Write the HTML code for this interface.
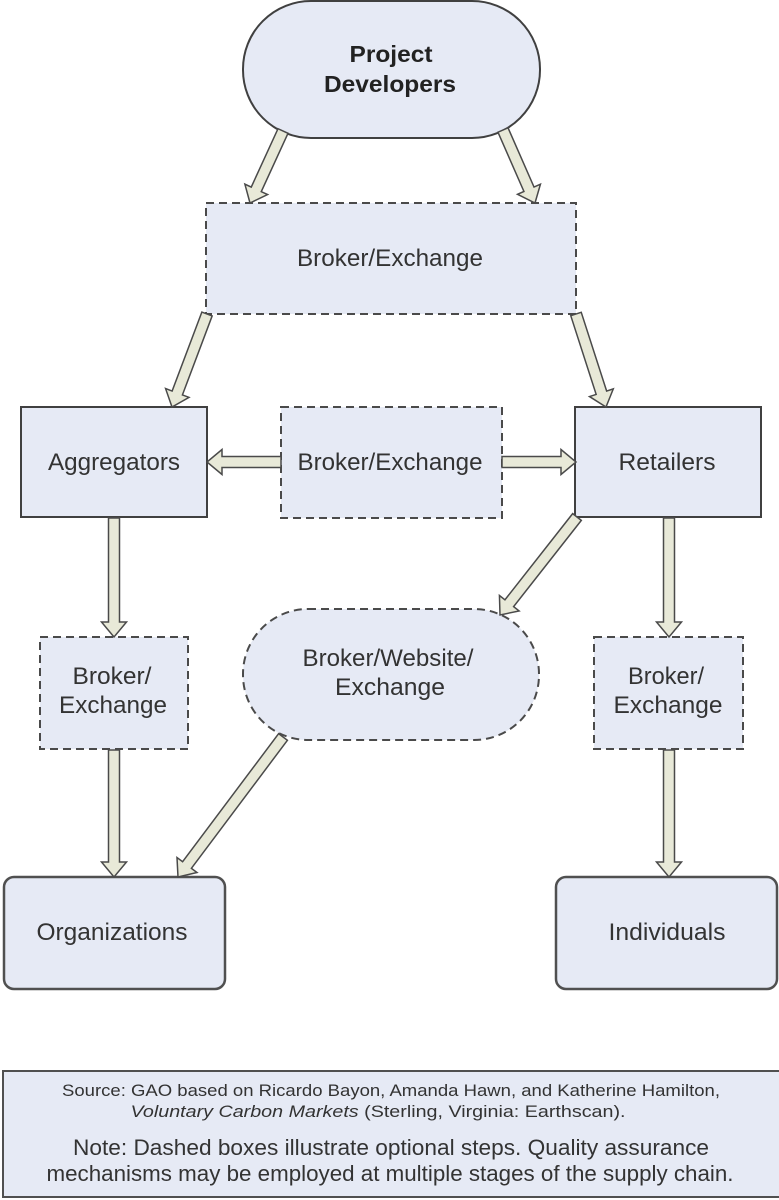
<!DOCTYPE html>
<html>
<head>
<meta charset="utf-8">
<style>
  html, body { margin:0; padding:0; background:#ffffff; }
  svg { display:block; }
  text { font-family: "Liberation Sans", Arial, sans-serif; fill:#333333; }
</style>
</head>
<body>
<svg width="779" height="1200" viewBox="0 0 779 1200" xmlns="http://www.w3.org/2000/svg">
  <rect x="0" y="0" width="779" height="1200" fill="#ffffff"/>

  <!-- Project Developers capsule -->
  <rect x="243" y="1" width="297" height="137" rx="68" ry="68" fill="#e6eaf5" stroke="#404040" stroke-width="2"/>
  <text x="391" y="62" font-size="23" font-weight="bold" text-anchor="middle" textLength="83" lengthAdjust="spacingAndGlyphs" style="fill:#222">Project</text>
  <text x="390" y="92" font-size="23" font-weight="bold" text-anchor="middle" textLength="132" lengthAdjust="spacingAndGlyphs" style="fill:#222">Developers</text>

  <!-- Top Broker/Exchange dashed -->
  <rect x="206" y="203" width="370" height="111" fill="#e6eaf5" stroke="#4a4a4a" stroke-width="2" stroke-dasharray="8,5"/>
  <text x="390" y="266" font-size="24" text-anchor="middle" textLength="186" lengthAdjust="spacingAndGlyphs">Broker/Exchange</text>

  <!-- Aggregators -->
  <rect x="21" y="407" width="186" height="110" fill="#e6eaf5" stroke="#404040" stroke-width="2"/>
  <text x="114" y="470" font-size="24" text-anchor="middle" textLength="132" lengthAdjust="spacingAndGlyphs">Aggregators</text>

  <!-- Middle Broker/Exchange dashed -->
  <rect x="281" y="407" width="221" height="111" fill="#e6eaf5" stroke="#4a4a4a" stroke-width="2" stroke-dasharray="8,5"/>
  <text x="390" y="470" font-size="24" text-anchor="middle" textLength="185" lengthAdjust="spacingAndGlyphs">Broker/Exchange</text>

  <!-- Retailers -->
  <rect x="575" y="407" width="186" height="110" fill="#e6eaf5" stroke="#404040" stroke-width="2"/>
  <text x="667" y="470" font-size="24" text-anchor="middle" textLength="97" lengthAdjust="spacingAndGlyphs">Retailers</text>

  <!-- Left small Broker/Exchange -->
  <rect x="40" y="637" width="148" height="112" fill="#e6eaf5" stroke="#4a4a4a" stroke-width="2" stroke-dasharray="8,5"/>
  <text x="112" y="684" font-size="24" text-anchor="middle" textLength="79" lengthAdjust="spacingAndGlyphs">Broker/</text>
  <text x="113" y="713" font-size="24" text-anchor="middle" textLength="108" lengthAdjust="spacingAndGlyphs">Exchange</text>

  <!-- Broker/Website/Exchange capsule dashed -->
  <rect x="243" y="609" width="296" height="131" rx="65" ry="65" fill="#e6eaf5" stroke="#4a4a4a" stroke-width="2" stroke-dasharray="8,5"/>
  <text x="388" y="666" font-size="24" text-anchor="middle" textLength="171" lengthAdjust="spacingAndGlyphs">Broker/Website/</text>
  <text x="390" y="695" font-size="24" text-anchor="middle" textLength="110" lengthAdjust="spacingAndGlyphs">Exchange</text>

  <!-- Right small Broker/Exchange -->
  <rect x="594" y="637" width="149" height="112" fill="#e6eaf5" stroke="#4a4a4a" stroke-width="2" stroke-dasharray="8,5"/>
  <text x="666" y="684" font-size="24" text-anchor="middle" textLength="76" lengthAdjust="spacingAndGlyphs">Broker/</text>
  <text x="668" y="713" font-size="24" text-anchor="middle" textLength="109" lengthAdjust="spacingAndGlyphs">Exchange</text>

  <!-- Organizations -->
  <rect x="4" y="877" width="221" height="112" rx="10" ry="10" fill="#e6eaf5" stroke="#505050" stroke-width="2.5"/>
  <text x="112" y="940" font-size="24" text-anchor="middle" textLength="151" lengthAdjust="spacingAndGlyphs">Organizations</text>

  <!-- Individuals -->
  <rect x="556" y="877" width="221" height="112" rx="10" ry="10" fill="#e6eaf5" stroke="#505050" stroke-width="2.5"/>
  <text x="667" y="940" font-size="24" text-anchor="middle" textLength="117" lengthAdjust="spacingAndGlyphs">Individuals</text>

  <!-- Block arrows -->
  <g fill="#e8e9d8" stroke="#4a4a4a" stroke-width="1.5" stroke-linejoin="miter">
    <!-- 1 PD -> top box left -->
    <polygon points="288.0,133.29 261.25,191.65 267.61,194.57 250,203 244.89,184.15 251.25,187.07 278.0,128.71"/>
    <!-- 2 PD -> top box right -->
    <polygon points="497.96,132.21 523.94,191.47 517.53,194.28 535,203 540.43,184.24 534.02,187.05 508.04,127.79"/>
    <!-- 3 top box -> Aggregators -->
    <polygon points="212.15,315.94 182.43,394.90 188.98,397.36 172,407 165.58,388.56 172.13,391.02 201.85,312.06"/>
    <!-- 4 top box -> Retailers -->
    <polygon points="570.77,315.69 596.16,394.41 589.50,396.56 606,407 613.29,388.89 606.63,391.03 581.23,312.31"/>
    <!-- 5 mid broker -> Aggregators -->
    <polygon points="281,456.5 222,456.5 222,449.5 207,462 222,474.5 222,467.5 281,467.5"/>
    <!-- 6 mid broker -> Retailers -->
    <polygon points="502,456.5 561,456.5 561,449.5 576,462 561,474.5 561,467.5 502,467.5"/>
    <!-- 7 Aggregators down -->
    <polygon points="108.5,518 108.5,622 101.5,622 114,637 126.5,622 119.5,622 119.5,518"/>
    <!-- 8 Retailers down -->
    <polygon points="663.5,518 663.5,622 656.5,622 669,637 681.5,622 674.5,622 674.5,518"/>
    <!-- 9 Retailers -> capsule -->
    <polygon points="581.32,520.40 513.59,606.60 519.10,610.93 500,615 499.44,595.48 504.94,599.81 572.68,513.60"/>
    <!-- 10 left small down -->
    <polygon points="108.5,750 108.5,862 101.5,862 114,877 126.5,862 119.5,862 119.5,750"/>
    <!-- 11 capsule -> Organizations -->
    <polygon points="287.4,740.3 191.4,868.3 197,872.5 178,877 177,857.5 182.6,861.7 278.6,733.7"/>
    <!-- 12 right small down -->
    <polygon points="663.5,750 663.5,862 656.5,862 669,877 681.5,862 674.5,862 674.5,750"/>
  </g>

  <!-- Bottom source/note box -->
  <rect x="3" y="1071" width="780" height="126" fill="#e6eaf5" stroke="#505050" stroke-width="2"/>
  <text x="391" y="1096" font-size="17" text-anchor="middle" textLength="658" lengthAdjust="spacingAndGlyphs">Source: GAO based on Ricardo Bayon, Amanda Hawn, and Katherine Hamilton,</text>
  <text x="378" y="1117" font-size="17" text-anchor="middle" textLength="495" lengthAdjust="spacingAndGlyphs"><tspan font-style="italic">Voluntary Carbon Markets</tspan> (Sterling, Virginia: Earthscan).</text>
  <text x="391" y="1155" font-size="22" text-anchor="middle" textLength="636" lengthAdjust="spacingAndGlyphs">Note: Dashed boxes illustrate optional steps.  Quality assurance</text>
  <text x="390" y="1181" font-size="22" text-anchor="middle" textLength="687" lengthAdjust="spacingAndGlyphs">mechanisms may be employed at multiple stages of the supply chain.</text>
</svg>
</body>
</html>
